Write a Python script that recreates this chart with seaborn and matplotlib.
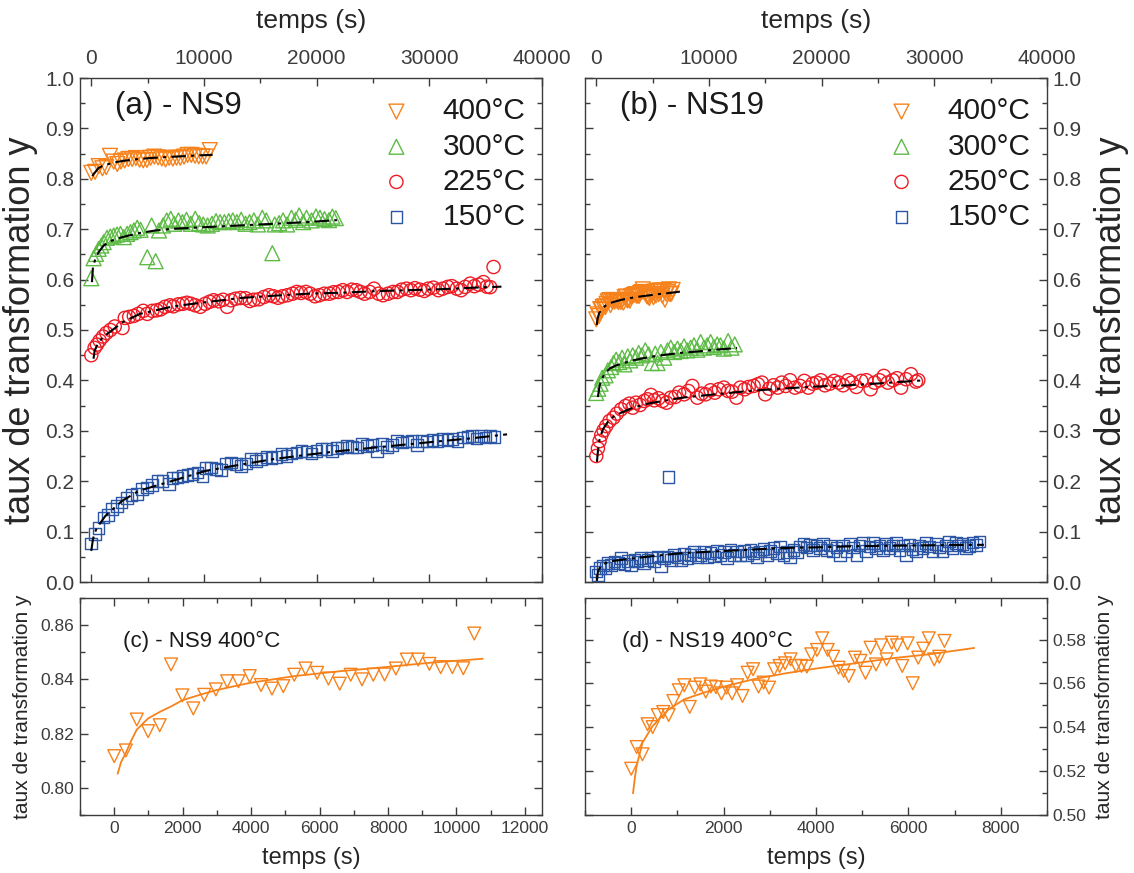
import matplotlib
matplotlib.use("Agg")
import matplotlib.pyplot as plt
from matplotlib.ticker import MultipleLocator, FormatStrFormatter
import seaborn as sns

# ---- colours ----
ORANGE = "#F7821B"
GREEN = "#5DBB46"
RED = "#EE1C25"
BLUE = "#2A56A5"

# ---- NS9 400°C (panel c, also in panel a) ----
ns9_400_t = [0, 340, 660, 990, 1330, 1660, 1990, 2310, 2630, 2970, 3300, 3630, 3960, 4290, 4610, 4940,
             5260, 5590, 5930, 6260, 6590, 6910, 7240, 7570, 7900, 8230, 8550, 8880, 9210, 9540, 9880,
             10200, 10520]
ns9_400_y = [0.8117, 0.8138, 0.8252, 0.8209, 0.8231, 0.8455, 0.8341, 0.8293, 0.8343, 0.8363, 0.8393,
             0.8393, 0.8412, 0.8379, 0.8366, 0.8375, 0.8417, 0.8440, 0.8424, 0.8403, 0.8384, 0.8417,
             0.8400, 0.8417, 0.8418, 0.8440, 0.8473, 0.8473, 0.8457, 0.8445, 0.8445, 0.8441, 0.8569]
ns9_400_fit_t = [100, 200, 340, 500, 660, 990, 1330, 1660, 1990, 2500, 2970, 3960, 5260, 6590, 7900,
                 9210, 10770]
ns9_400_fit_y = [0.8052, 0.8095, 0.8129, 0.8175, 0.8215, 0.8256, 0.8280, 0.8300, 0.8323, 0.8343, 0.8360,
                 0.8387, 0.8412, 0.8430, 0.8445, 0.8461, 0.8476]

# ---- NS9 300°C ----
ns9_300_t = [0, 208, 417, 655, 893, 1101, 1399, 1696, 1994, 2292, 2589, 2887, 3184, 3482, 3780, 4077,
             4375, 4970, 5357, 5714, 6011, 6369, 6696, 7053, 7351, 7738, 8095, 8452, 8839, 9226, 9583,
             9940, 10327, 10713, 11071, 11428, 11815, 12202, 12559, 12916, 13303, 13690, 14047, 14434,
             14791, 15177, 15535, 16070, 16279, 16666, 17023, 17380, 17767, 18154, 18451, 18808, 19106,
             19553, 19940, 20297, 20700, 21100, 21400, 21700]
ns9_300_y = [0.6027, 0.6424, 0.6510, 0.6610, 0.6676, 0.6743, 0.6829, 0.6855, 0.6875, 0.6895, 0.6908,
             0.6842, 0.6908, 0.6942, 0.6975, 0.7028, 0.6988, 0.6444, 0.7074, 0.6365, 0.6975, 0.7074,
             0.7174, 0.7207, 0.7107, 0.7174, 0.7141, 0.7187, 0.7107, 0.7207, 0.7121, 0.7094, 0.7074,
             0.7107, 0.7160, 0.7141, 0.7141, 0.7160, 0.7174, 0.7141, 0.7187, 0.7107, 0.7141, 0.7174,
             0.7094, 0.7227, 0.7174, 0.6524, 0.7094, 0.7121, 0.7174, 0.7094, 0.7227, 0.7187, 0.7273,
             0.7141, 0.7227, 0.7174, 0.7253, 0.7227, 0.7200, 0.7180, 0.7250, 0.7220]
ns9_300_fit_t = [60, 150, 360, 655, 1100, 1845, 2740, 4230, 5710, 7200, 10180, 13150, 16130, 19110,
                 20450, 21800]
ns9_300_fit_y = [0.595, 0.6245, 0.641, 0.6544, 0.6676, 0.6776, 0.6842, 0.6922, 0.6975, 0.7008, 0.7041,
                 0.7074, 0.7107, 0.7141, 0.716, 0.718]

# ---- NS9 225°C ----
ns9_225_t = [0, 298, 506, 744, 1042, 1339, 1696, 2083, 2768, 2976, 3363, 3780, 4166, 4613, 4970, 5416,
             5803, 6160, 6547, 6994, 7291, 7738, 8124, 8482, 8839, 9226, 9672, 10118, 10505, 10862,
             11309, 11696, 12053, 12410, 12797, 13243, 13690, 14076, 14434, 14880, 15326, 15773, 16160,
             16576, 16963, 17410, 17856, 18243, 18600, 19046, 19433, 19850, 20237, 20683, 21130, 21516,
             21933, 22320, 22707, 23124, 23510, 23897, 24254, 24701, 25088, 25504, 25891, 26338, 26784,
             27171, 27528, 27974, 28361, 28718, 29165, 29551, 29908, 30355, 30801, 31188, 31635, 31992,
             32438, 32825, 33182, 33629, 34000, 34400, 34800, 35100, 35400, 35700]
ns9_225_y = [0.450, 0.4645, 0.471, 0.479, 0.487, 0.494, 0.500, 0.507, 0.504, 0.524, 0.526, 0.528, 0.532,
             0.538, 0.532, 0.538, 0.539, 0.541, 0.546, 0.549, 0.547, 0.551, 0.552, 0.554, 0.552, 0.549,
             0.546, 0.552, 0.556, 0.559, 0.557, 0.560, 0.546, 0.559, 0.562, 0.5635, 0.563, 0.5575, 0.560,
             0.561, 0.5655, 0.569, 0.567, 0.564, 0.567, 0.569, 0.572, 0.5755, 0.5735, 0.5755, 0.572,
             0.567, 0.569, 0.572, 0.572, 0.575, 0.5755, 0.579, 0.5755, 0.580, 0.579, 0.5755, 0.572,
             0.5755, 0.582, 0.572, 0.569, 0.572, 0.5755, 0.5755, 0.580, 0.582, 0.579, 0.583, 0.580,
             0.5775, 0.582, 0.584, 0.579, 0.582, 0.5855, 0.587, 0.582, 0.579, 0.5855, 0.592, 0.587,
             0.590, 0.595, 0.586, 0.585, 0.625]
ns9_225_fit_t = [200, 300, 506, 893, 1340, 2830, 4315, 7290, 10270, 13240, 16220, 19200, 22170, 25150,
                 28120, 31100, 33930, 36400]
ns9_225_fit_y = [0.443, 0.459, 0.469, 0.482, 0.491, 0.516, 0.532, 0.547, 0.5555, 0.5635, 0.568, 0.572,
                 0.574, 0.577, 0.579, 0.581, 0.584, 0.586]

# ---- NS9 150°C ----
ns9_150_t = [0, 357, 655, 1101, 1488, 1845, 2292, 2678, 3184, 3571, 4077, 4523, 4970, 5416, 5863, 6309,
             6904, 7202, 7648, 8095, 8541, 8988, 9434, 9881, 10178, 10624, 11071, 11517, 11964, 12410,
             12856, 13303, 13749, 14196, 14642, 15088, 15535, 15981, 16428, 16874, 17321, 17767, 18214,
             18660, 19106, 19553, 19999, 20446, 20892, 21339, 21785, 22231, 22678, 23124, 23571, 24017,
             24464, 24910, 25357, 25803, 26249, 26696, 27142, 27589, 28034, 28481, 28928, 29374, 29821,
             30267, 30714, 31160, 31607, 32053, 32500, 32946, 33392, 33800, 34200, 34600, 35000, 35400,
             35800]
ns9_150_y = [0.0762, 0.0948, 0.1067, 0.1280, 0.1325, 0.1444, 0.1510, 0.1577, 0.1663, 0.1729, 0.1742,
             0.1842, 0.1875, 0.1928, 0.2007, 0.2007, 0.1940, 0.2060, 0.2073, 0.2106, 0.2126, 0.2140,
             0.2173, 0.2106, 0.2259, 0.2272, 0.2239, 0.2219, 0.2351, 0.2371, 0.2338, 0.2305, 0.2351,
             0.2437, 0.2404, 0.2437, 0.2484, 0.2457, 0.2484, 0.2537, 0.2503, 0.2550, 0.2570, 0.2603,
             0.2590, 0.2550, 0.2603, 0.2636, 0.2636, 0.2603, 0.2656, 0.2669, 0.2695, 0.2682, 0.2669,
             0.2735, 0.2702, 0.2722, 0.2590, 0.2735, 0.2682, 0.2722, 0.2801, 0.2768, 0.2788, 0.2801,
             0.2722, 0.2801, 0.2788, 0.2815, 0.2801, 0.2834, 0.2815, 0.2834, 0.2788, 0.2868, 0.2881,
             0.2900, 0.2850, 0.2900, 0.2870, 0.2900, 0.2880]
ns9_150_fit_t = [0, 150, 300, 506, 1250, 2740, 4230, 7200, 10180, 13150, 16130, 19110, 22080, 25060,
                 28030, 31010, 33690, 36900]
ns9_150_fit_y = [0.0617, 0.085, 0.097, 0.108, 0.131, 0.161, 0.181, 0.2007, 0.2206, 0.2325, 0.2437,
                 0.2523, 0.2600, 0.2665, 0.2730, 0.2795, 0.2850, 0.2930]

# ---- NS19 400°C (panel d, also in panel b) ----
ns19_400_t = [0, 118, 244, 354, 465, 575, 693, 811, 913, 1031, 1150, 1268, 1378, 1496, 1614, 1724, 1835,
              1953, 2063, 2181, 2291, 2409, 2520, 2638, 2756, 2866, 2984, 3094, 3213, 3331, 3449, 3567,
              3685, 3803, 3898, 4024, 4134, 4252, 4370, 4488, 4598, 4709, 4843, 4961, 5071, 5181, 5299,
              5409, 5528, 5638, 5756, 5866, 5984, 6094, 6213, 6323, 6441, 6559, 6669, 6780]
ns19_400_y = [0.5211, 0.5310, 0.5277, 0.5414, 0.5401, 0.5456, 0.5470, 0.5456, 0.5520, 0.5569, 0.5592,
              0.5493, 0.5581, 0.5596, 0.5563, 0.5586, 0.5583, 0.5555, 0.5581, 0.5555, 0.5592, 0.5543,
              0.5649, 0.5665, 0.5586, 0.5604, 0.5581, 0.5665, 0.5680, 0.5692, 0.5710, 0.5680, 0.5680,
              0.5677, 0.5733, 0.5753, 0.5806, 0.5753, 0.5722, 0.5672, 0.5657, 0.5634, 0.5718, 0.5703,
              0.5649, 0.5763, 0.5687, 0.5774, 0.5710, 0.5786, 0.5774, 0.5680, 0.5783, 0.5601, 0.5718,
              0.5759, 0.5806, 0.5710, 0.5722, 0.5794]
ns19_400_fit_t = [39, 80, 118, 244, 465, 811, 1150, 1614, 2063, 2638, 3331, 4024, 4843, 5638, 6441, 7425]
ns19_400_fit_y = [0.5099, 0.5170, 0.5224, 0.5330, 0.5406, 0.5482, 0.5528, 0.5561, 0.5589, 0.5619, 0.5646,
                  0.5669, 0.5692, 0.5715, 0.5733, 0.5762]

# ---- NS19 300°C ----
ns19_300_t = [0, 176, 382, 529, 823, 1029, 1323, 1529, 1764, 2058, 2293, 2499, 2793, 2999, 3234, 3528,
              3763, 4057, 4351, 4645, 4939, 5233, 5439, 5733, 6027, 6321, 6615, 6909, 7203, 7497, 7791,
              8085, 8379, 8673, 8967, 9261, 9555, 9849, 10143, 10437, 10731, 11025, 11319, 11701, 11995,
              12289]
ns19_300_y = [0.375, 0.3834, 0.3934, 0.4053, 0.410, 0.420, 0.4265, 0.4344, 0.4411, 0.4364, 0.445, 0.4318,
              0.4477, 0.4397, 0.4497, 0.445, 0.4543, 0.4497, 0.4596, 0.4517, 0.4344, 0.453, 0.4344,
              0.4563, 0.445, 0.4596, 0.4649, 0.4563, 0.463, 0.4583, 0.4676, 0.4596, 0.4649, 0.4695,
              0.4609, 0.4762, 0.4649, 0.4695, 0.4762, 0.4662, 0.4715, 0.4695, 0.463, 0.4781, 0.4649,
              0.4715]
ns19_300_fit_t = [147, 294, 441, 735, 1176, 1764, 3234, 4704, 6174, 7644, 9114, 10584, 12495]
ns19_300_fit_y = [0.367, 0.390, 0.400, 0.4132, 0.4232, 0.4298, 0.4397, 0.4464, 0.451, 0.455, 0.4576,
                  0.4609, 0.4642]

# ---- NS19 250°C ----
ns19_250_t = [0, 147, 294, 441, 647, 882, 1176, 1529, 1823, 2205, 2587, 2940, 3234, 3528, 3881, 4263,
              4557, 4851, 5145, 5527, 5880, 6233, 6615, 6997, 7350, 7791, 8173, 8526, 8967, 9349, 9702,
              10143, 10525, 10878, 11319, 11701, 12054, 12436, 12789, 13171, 13524, 13965, 14347, 14700,
              14994, 15347, 15729, 16111, 16464, 16817, 17199, 17640, 18081, 18463, 18816, 19198, 19551,
              19933, 20286, 20727, 21109, 21521, 21903, 22344, 22697, 23079, 23520, 23961, 24343, 24696,
              25137, 25519, 25872, 26313, 26695, 27048, 27489, 27930, 28371, 28577]
ns19_250_y = [0.25, 0.265, 0.2796, 0.2915, 0.3008, 0.3094, 0.3194, 0.326, 0.334, 0.3426, 0.3492, 0.3538,
              0.3459, 0.3558, 0.3512, 0.3592, 0.3625, 0.3711, 0.3605, 0.3645, 0.3592, 0.3558, 0.3658,
              0.3671, 0.3757, 0.3724, 0.379, 0.389, 0.3658, 0.3737, 0.3724, 0.3804, 0.3757, 0.3824,
              0.3857, 0.379, 0.3777, 0.3658, 0.3857, 0.3824, 0.387, 0.389, 0.3923, 0.3956, 0.3724,
              0.3837, 0.3903, 0.3857, 0.3956, 0.389, 0.4003, 0.3857, 0.389, 0.399, 0.3857, 0.3936,
              0.3956, 0.4003, 0.3903, 0.3936, 0.399, 0.3956, 0.3903, 0.4003, 0.3956, 0.387, 0.399,
              0.4003, 0.3824, 0.3956, 0.4003, 0.4089, 0.3956, 0.4003, 0.4043, 0.3857, 0.4023, 0.4122,
              0.3976, 0.4003]
ns19_250_fit_t = [59, 147, 294, 588, 1176, 1764, 3234, 4704, 7644, 10584, 13524, 16464, 19404, 22344,
                  25284, 29106]
ns19_250_fit_y = [0.2384, 0.2597, 0.2829, 0.3028, 0.3227, 0.3313, 0.3459, 0.3545, 0.3658, 0.3724, 0.379,
                  0.3837, 0.3877, 0.3903, 0.3943, 0.4003]

# ---- NS19 150°C ----
ns19_150_t = [0, 147, 353, 588, 823, 1029, 1323, 1617, 1911, 2205, 2499, 2793, 3087, 3381, 3675, 3969,
              4263, 4557, 4851, 5145, 5439, 5733, 6027, 6321, 6400, 6615, 6909, 7203, 7497, 7791, 8085,
              8379, 8673, 8967, 9261, 9555, 9849, 10143, 10437, 10731, 11025, 11319, 11613, 11907, 12201,
              12495, 12789, 13083, 13377, 13671, 13965, 14259, 14553, 14847, 15141, 15435, 15729, 16023,
              16317, 16611, 16905, 17199, 17493, 17787, 18081, 18375, 18669, 18963, 19257, 19551, 19845,
              20139, 20433, 20727, 21021, 21315, 21609, 21903, 22197, 22491, 22785, 23079, 23373, 23667,
              23961, 24255, 24549, 24843, 25137, 25431, 25725, 26019, 26313, 26607, 26901, 27195, 27489,
              27783, 28077, 28371, 28665, 28959, 29253, 29547, 29841, 30135, 30429, 30723, 31017, 31311,
              31605, 31899, 32193, 32500, 32800, 33100, 33400, 33700, 34000]
ns19_150_y = [0.021, 0.0143, 0.0276, 0.0329, 0.0276, 0.0375, 0.0342, 0.0408, 0.0375, 0.0475, 0.0355,
              0.0422, 0.0329, 0.0442, 0.0408, 0.0475, 0.0375, 0.0442, 0.0488, 0.0408, 0.0508, 0.0309,
              0.0475, 0.0508, 0.208, 0.0442, 0.0541, 0.0488, 0.0442, 0.0554, 0.0475, 0.0541, 0.0607,
              0.0488, 0.0541, 0.0594, 0.0488, 0.0574, 0.0508, 0.0621, 0.0541, 0.0594, 0.0475, 0.064,
              0.0541, 0.0607, 0.0528, 0.0621, 0.0541, 0.064, 0.0574, 0.0488, 0.0607, 0.066, 0.0541,
              0.0621, 0.0674, 0.0574, 0.0707, 0.0541, 0.0594, 0.0488, 0.064, 0.0594, 0.0707, 0.0753,
              0.0687, 0.074, 0.064, 0.0727, 0.0674, 0.0753, 0.064, 0.0727, 0.0621, 0.0687, 0.0528,
              0.0727, 0.0621, 0.0753, 0.0687, 0.0541, 0.0727, 0.0773, 0.0621, 0.0707, 0.0773, 0.0674,
              0.0727, 0.064, 0.0753, 0.0674, 0.0727, 0.0773, 0.064, 0.0727, 0.0541, 0.074, 0.066, 0.0621,
              0.0727, 0.0674, 0.0773, 0.0707, 0.0621, 0.0753, 0.0687, 0.0621, 0.0727, 0.0806, 0.0674,
              0.0773, 0.0727, 0.075, 0.068, 0.072, 0.078, 0.074, 0.080]
ns19_150_fit_t = [59, 147, 441, 1176, 2352, 4704, 7644, 10584, 13524, 16464, 19404, 22344, 25284, 28224,
                  31164, 34400]
ns19_150_fit_y = [0.0024, 0.021, 0.033, 0.041, 0.0442, 0.0508, 0.0574, 0.0607, 0.064, 0.0674, 0.0687,
                  0.0707, 0.0717, 0.0725, 0.0732, 0.0738]

YLABEL = "taux de transformation y"
XLABEL = "temps (s)"

sns.set_style("ticks")
plt.rcParams["font.family"] = ["Liberation Sans", "DejaVu Sans"]
plt.rcParams["axes.edgecolor"] = "#3c3c3c"
plt.rcParams["axes.linewidth"] = 1.0
plt.rcParams["xtick.color"] = "#3c3c3c"
plt.rcParams["ytick.color"] = "#3c3c3c"
plt.rcParams["text.color"] = "#1a1a1a"

W, H = 1134, 873
fig = plt.figure(figsize=(W / 100, H / 100), dpi=100)


def box(left, top, width, height):
    return fig.add_axes([left / W, 1 - (top + height) / H, width / W, height / H])


ax_a = box(80, 78, 462, 504)
ax_b = box(585, 78, 462, 504)
ax_c = box(80, 598, 462, 217)
ax_d = box(585, 598, 462, 217)


def points(ax, t, y, color, marker, size, label=None):
    sns.scatterplot(x=t, y=y, ax=ax, marker=marker, s=size, color=color,
                    facecolor="none", edgecolor=color, linewidth=1.0, label=label, zorder=2)


def curve(ax, t, y, color, style, lw):
    sns.lineplot(x=t, y=y, ax=ax, color=color, linestyle=style, linewidth=lw,
                 errorbar=None, zorder=3)


def frame(ax, xmaj, xmin, ymaj, ymin, size, yfmt):
    ax.xaxis.set_major_locator(MultipleLocator(xmaj))
    ax.xaxis.set_minor_locator(MultipleLocator(xmin))
    ax.yaxis.set_major_locator(MultipleLocator(ymaj))
    ax.yaxis.set_minor_locator(MultipleLocator(ymin))
    ax.yaxis.set_major_formatter(FormatStrFormatter(yfmt))
    ax.tick_params(which="both", direction="in", top=True, right=True, bottom=True, left=True,
                   labelsize=size, width=1.0, pad=4)
    ax.tick_params(which="major", length=6)
    ax.tick_params(which="minor", length=3.5)


dashdot = (0, (7, 2.5, 1.5, 2.5))

# ---- panel (a) ----
points(ax_a, ns9_400_t, ns9_400_y, ORANGE, "v", 115, "400°C")
points(ax_a, ns9_300_t, ns9_300_y, GREEN, "^", 115, "300°C")
points(ax_a, ns9_225_t, ns9_225_y, RED, "o", 90, "225°C")
points(ax_a, ns9_150_t, ns9_150_y, BLUE, "s", 70, "150°C")
for ft, fy in [(ns9_400_fit_t, ns9_400_fit_y), (ns9_300_fit_t, ns9_300_fit_y),
               (ns9_225_fit_t, ns9_225_fit_y), (ns9_150_fit_t, ns9_150_fit_y)]:
    curve(ax_a, ft, fy, "black", dashdot, 1.5)

# ---- panel (b) ----
points(ax_b, ns19_400_t, ns19_400_y, ORANGE, "v", 115, "400°C")
points(ax_b, ns19_300_t, ns19_300_y, GREEN, "^", 115, "300°C")
points(ax_b, ns19_250_t, ns19_250_y, RED, "o", 90, "250°C")
points(ax_b, ns19_150_t, ns19_150_y, BLUE, "s", 70, "150°C")
for ft, fy in [(ns19_400_fit_t, ns19_400_fit_y), (ns19_300_fit_t, ns19_300_fit_y),
               (ns19_250_fit_t, ns19_250_fit_y), (ns19_150_fit_t, ns19_150_fit_y)]:
    curve(ax_b, ft, fy, "black", dashdot, 1.5)

for ax, tag in [(ax_a, "(a) - NS9"), (ax_b, "(b) - NS19")]:
    ax.set_xlim(-1000, 40000)
    ax.set_ylim(0, 1.0)
    frame(ax, 10000, 5000, 0.1, 0.05, 15, "%.1f")
    ax.tick_params(axis="x", labeltop=True, labelbottom=False, pad=7)
    ax.xaxis.set_label_position("top")
    ax.set_xlabel(XLABEL, fontsize=19, labelpad=15)
    ax.text(0.075, 0.945, tag, transform=ax.transAxes, fontsize=22.5, va="center", ha="left")
    ax.legend(loc="upper right", bbox_to_anchor=(1.004, 0.997), frameon=False, fontsize=21.5,
              handletextpad=0.55, labelspacing=0.24, markerscale=1.0, borderaxespad=0.2,
              handlelength=2.0)

ax_a.set_ylabel(YLABEL, fontsize=26, labelpad=5)
ax_b.tick_params(axis="y", labelleft=False, labelright=True)
ax_b.yaxis.set_label_position("right")
ax_b.set_ylabel(YLABEL, fontsize=26, labelpad=9)

# ---- panel (c) ----
points(ax_c, ns9_400_t, ns9_400_y, ORANGE, "v", 85)
curve(ax_c, ns9_400_fit_t, ns9_400_fit_y, ORANGE, "-", 1.3)
ax_c.set_xlim(-1000, 12500)
ax_c.set_ylim(0.79, 0.87)
frame(ax_c, 2000, 1000, 0.02, 0.01, 12.5, "%.2f")
ax_c.set_xlabel(XLABEL, fontsize=17, labelpad=8)
ax_c.set_ylabel(YLABEL, fontsize=15, labelpad=6)
ax_c.text(0.092, 0.80, "(c) - NS9 400°C", transform=ax_c.transAxes, fontsize=16,
          va="center", ha="left")

# ---- panel (d) ----
points(ax_d, ns19_400_t, ns19_400_y, ORANGE, "v", 85)
curve(ax_d, ns19_400_fit_t, ns19_400_fit_y, ORANGE, "-", 1.3)
ax_d.set_xlim(-1000, 9000)
ax_d.set_ylim(0.50, 0.599)
frame(ax_d, 2000, 1000, 0.02, 0.01, 12.5, "%.2f")
ax_d.tick_params(axis="y", labelleft=False, labelright=True)
ax_d.yaxis.set_label_position("right")
ax_d.set_xlabel(XLABEL, fontsize=17, labelpad=8)
ax_d.set_ylabel(YLABEL, fontsize=15, labelpad=6)
ax_d.text(0.08, 0.80, "(d) - NS19 400°C", transform=ax_d.transAxes, fontsize=16,
          va="center", ha="left")

fig.savefig("out.png", dpi=100)
